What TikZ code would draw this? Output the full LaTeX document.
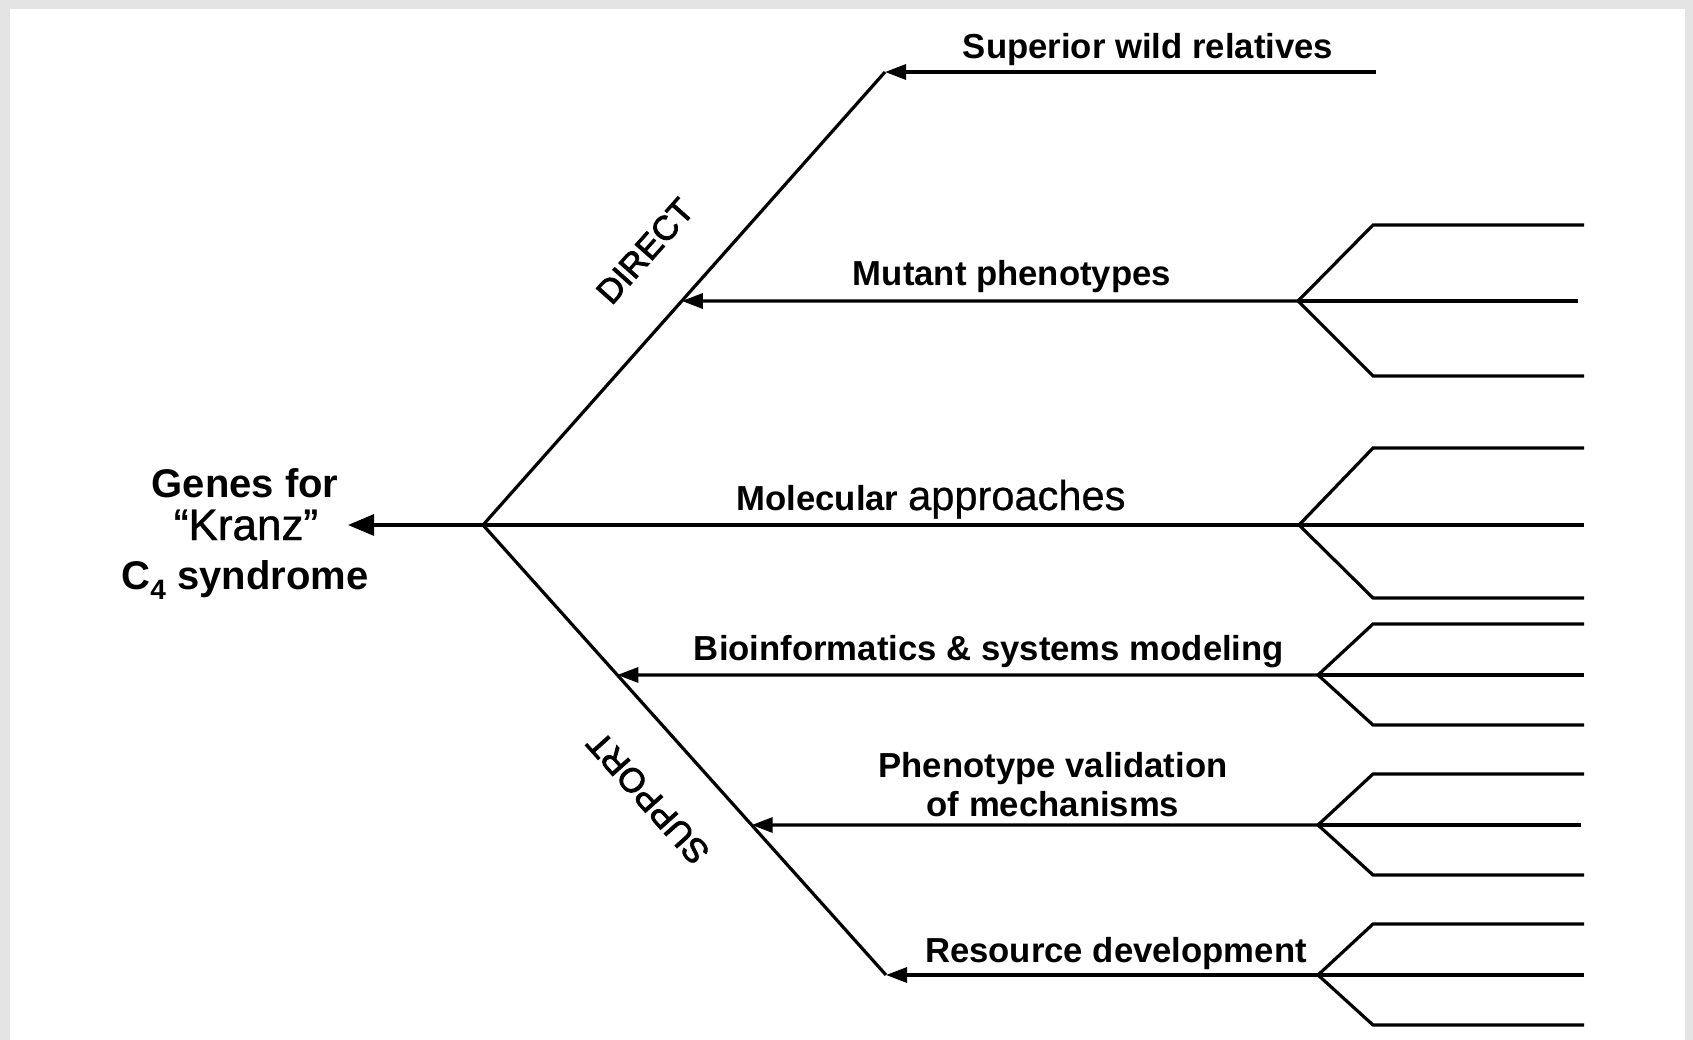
\documentclass[tikz,border=0pt]{standalone}
\usepackage{fontspec}
\setmainfont{Liberation Sans}
\newfontfamily\semifont[FakeBold=1]{Liberation Sans}
\newfontfamily\lightsemi[FakeBold=0.6]{Liberation Sans}
\newfontfamily\diagfont[FakeBold=2.5]{Liberation Sans}
\usetikzlibrary{arrows.meta,calc}
\definecolor{bordergray}{HTML}{E4E4E4}
\begin{document}
\begin{tikzpicture}[x=1pt,y=-1pt,
  ln/.style={line width=3.2pt},
  arr/.style={ln,-{Triangle[length=21pt,width=15pt]}},
  bigarr/.style={ln,-{Triangle[length=26pt,width=21pt]}},
  lbl/.style={font=\fontsize{34.7}{40}\selectfont\bfseries,inner sep=0pt,anchor=base},
  big/.style={font=\fontsize{40}{46}\selectfont\bfseries,inner sep=0pt,anchor=base},
  bigreg/.style={font=\fontsize{44}{50}\semifont,inner sep=0pt,anchor=base},
  diag/.style={font=\fontsize{34}{40}\diagfont,inner sep=0pt}
]
\useasboundingbox (0,0) rectangle (1693,1040);
\fill[bordergray] (0,0) rectangle (1693,1040);
\fill[white] (10,9) rectangle (1685,1040);

% main skeleton
\coordinate (hub) at (483,525);
\coordinate (topc) at (885,72);
\coordinate (botc) at (886,975);
\coordinate (genT) at (348,525);
\coordinate (supE) at (1376,72);
\draw[ln] (hub) -- (topc);
\draw[ln] (hub) -- (botc);

% forks
\foreach \n/\fx/\fy/\up/\dn/\mx in {f1/1298/301/225/376/1578, f2/1299/525/448/598/1584, f3/1318/675/624/725/1584, f4/1318/825/774/875/1581, f5/1318/975/924/1025/1584}{
  \coordinate (\n) at (\fx,\fy);
  \coordinate (\n-u) at (1373,\up);
  \coordinate (\n-ue) at (1584,\up);
  \coordinate (\n-d) at (1373,\dn);
  \coordinate (\n-de) at (1584,\dn);
  \coordinate (\n-me) at (\mx,\fy);
  \draw[ln] (\n-ue) -- (\n-u) -- (\n) -- (\n-d) -- (\n-de);
  \draw[ln] (\n) -- (\n-me);
}

\coordinate (mutT) at ($(hub)!0.4945!(topc)$);
\coordinate (bioT) at ($(hub)!0.3333!(botc)$);
\coordinate (phT) at ($(hub)!0.6667!(botc)$);

\draw[arr] (supE) -- (topc);
\draw[arr] (f1) -- (mutT);
\draw[ln] (f2) -- (hub);
\draw[arr] (f3) -- (bioT);
\draw[arr] (f4) -- (phT);
\draw[arr] (f5) -- (botc);
\draw[bigarr] (hub) -- (genT);

% labels
\node[lbl] (sup) at (1148,59) {Superior wild relatives};
\node[lbl] (mut) at (1012,286) {Mutant phenotypes};
\node[lbl] (mol) at (931,510) {Molecular {\fontsize{41.6}{48}\mdseries\lightsemi approaches}};
\node[lbl] (bio) at (989,660) {Bioinformatics \& systems modeling};
\node[lbl] (ph1) at (1053,777) {Phenotype validation};
\node[lbl] (ph2) at (1053,816) {of mechanisms};
\node[lbl] (res) at (1116,962) {Resource development};

\node[big] (g1) at (245,497) {Genes for};
\node[bigreg] (g2) at (246,540) {“Kranz”};
\node[big] (g3) at (245,589) {C\textsubscript{4} syndrome};

\node[diag,rotate=48.4] (direct) at (645,251) {DIRECT};
\node[diag,rotate=131.8] (support) at (648,798) {SUPPORT};
\end{tikzpicture}
\end{document}
